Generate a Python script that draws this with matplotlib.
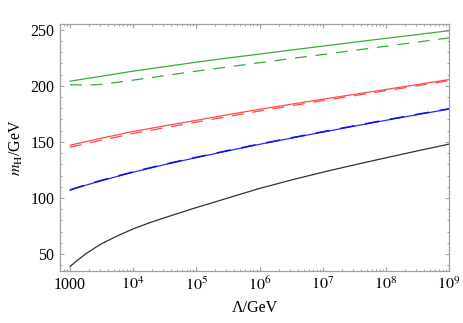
import matplotlib
matplotlib.use("Agg")
import matplotlib.pyplot as plt
from matplotlib.ticker import FixedLocator, FixedFormatter, LogLocator, MultipleLocator, NullFormatter

# log10(Lambda/GeV) sample points
log_lam = [3, 3.25, 3.5, 4, 4.5, 5, 5.5, 6, 6.5, 7, 7.5, 8, 8.5, 9]
lam = [10 ** v for v in log_lam]
# the black curve bends more at the start, so it got more readings
log_lam_black = [3, 3.1, 3.25, 3.4, 3.5, 3.75, 4, 4.25, 4.5, 5, 5.5, 6, 6.5, 7, 7.5, 8, 8.5, 9]
lam_black = [10 ** v for v in log_lam_black]

green_solid  = [204.0, 206.3, 208.5, 213.0, 217.0, 221.0, 224.7, 228.2, 231.8, 235.3, 238.8, 242.2, 245.6, 249.0]
green_dashed = [201.0, 200.6, 201.2, 205.0, 209.0, 213.0, 216.8, 220.5, 224.2, 227.8, 231.5, 235.2, 238.9, 242.6]
red_solid    = [147.0, 150.2, 153.3, 159.3, 164.3, 169.2, 174.2, 179.0, 183.5, 188.0, 192.3, 196.7, 201.1, 205.5]
red_dashed   = [145.2, 148.4, 151.5, 157.5, 162.6, 167.6, 172.6, 177.5, 182.1, 186.7, 191.1, 195.6, 200.0, 204.5]
blue_solid   = [107.0, 111.4, 115.5, 123.0, 129.8, 136.0, 142.0, 147.8, 153.3, 158.7, 164.0, 169.2, 174.3, 179.2]
blue_dashed  = [107.3, 111.7, 115.8, 123.3, 130.1, 136.3, 142.3, 148.1, 153.6, 159.0, 164.3, 169.5, 174.6, 179.5]
black_solid  = [39.0, 43.8, 50.3, 55.8, 59.3, 66.3, 72.5, 77.8, 82.5, 91.5, 100.0, 108.5, 116.0, 123.0, 129.5, 135.8, 142.0, 148.0]

xticks = [1e3, 1e4, 1e5, 1e6, 1e7, 1e8, 1e9]
xticklabels = ["1000", "$10^{4}$", "$10^{5}$", "$10^{6}$", "$10^{7}$", "$10^{8}$", "$10^{9}$"]

plt.rcParams['font.family'] = ['Liberation Serif', 'DejaVu Serif']
plt.rcParams['mathtext.fontset'] = 'stix'

fig = plt.figure(figsize=(4.63, 3.23), dpi=100)
ax = fig.add_axes([0.1296, 0.161, 0.8402, 0.7647])

dash = (0, (9.5, 7))
ax.plot(lam, green_solid, color='#3aaa3a', lw=0.9)
ax.plot(lam, green_dashed, color='#3aaa3a', lw=0.9, linestyle=dash)
ax.plot(lam, red_solid, color='#ff4a4a', lw=0.9)
ax.plot(lam, red_dashed, color='#ff4a4a', lw=0.9, linestyle=dash)
ax.plot(lam, blue_solid, color='#2a2aff', lw=0.9)
ax.plot(lam, blue_dashed, color='#1010e0', lw=1.1, linestyle=dash)
ax.plot(lam_black, black_solid, color='#303030', lw=0.9)

ax.set_xscale('log')
ax.set_xlim(695, 1.0e9)
ax.set_ylim(35, 255)

ax.xaxis.set_major_locator(FixedLocator(xticks))
ax.xaxis.set_major_formatter(FixedFormatter(xticklabels))
ax.xaxis.set_minor_locator(LogLocator(base=10, subs=range(2, 10)))
ax.xaxis.set_minor_formatter(NullFormatter())
ax.yaxis.set_major_locator(MultipleLocator(50))
ax.yaxis.set_minor_locator(MultipleLocator(10))

for s in ax.spines.values():
    s.set_color('#a0a0a0')
    s.set_linewidth(0.9)
ax.tick_params(which='both', direction='in', top=True, right=True, color='#a0a0a0', labelsize=11.5)
ax.tick_params(which='major', length=3, width=0.8, pad=4)
ax.tick_params(which='minor', length=1.6, width=0.7)

ax.set_xlabel("Λ/GeV", fontsize=11.5, labelpad=4)
ax.set_ylabel("$m_{\\mathrm{H}}$/GeV", fontsize=11.5, labelpad=4)

fig.savefig("out.png", dpi=100)
